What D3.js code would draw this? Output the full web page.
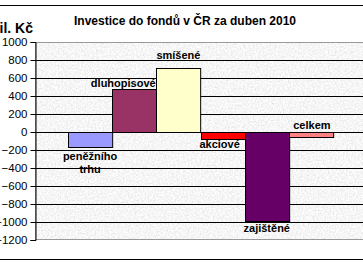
<!DOCTYPE html>
<html><head><meta charset="utf-8">
<script src="https://cdn.jsdelivr.net/npm/d3@7"></script>
<style>body{margin:0;background:#fff}svg{display:block}text{font-family:Arial,"Liberation Sans",sans-serif}</style>
</head><body><svg id="c" width="363" height="264"></svg>
<script>
const categories = ["peněžního trhu","dluhopisové","smíšené","akciové","zajištěné","celkem"];
const values = [-170, 480, 710, -75, -990, -55];
const colors = ["#9999FF","#993366","#FFFFCC","#FF0000","#660066","#FF8080"];
const yTicks = [1000,800,600,400,200,0,-200,-400,-600,-800,-1000,-1200];
const title = "Investice do fondů v ČR za duben 2010";
const unit = "mil. Kč";

const svg = d3.select("#c");
const defs = svg.append("defs");
const f = defs.append("filter").attr("id","granite").attr("x",0).attr("y",0).attr("width","100%").attr("height","100%");
f.append("feTurbulence").attr("type","fractalNoise").attr("baseFrequency","0.6").attr("numOctaves",3).attr("seed",4).attr("result","n");
f.append("feColorMatrix").attr("in","n").attr("type","matrix")
 .attr("values","0.4 0 0 0 0.72  0.4 0 0 0 0.72  0.4 0 0 0 0.72  0 0 0 0 1");

const plot = {l:35, r:366, t:42, b:240};
const y = d3.scaleLinear().domain([-1200,1000]).range([plot.b, plot.t]);
const x = d3.scaleBand().domain(categories).range([68, 333]).padding(0);

// chart border lines
svg.append("line").attr("x1",0).attr("x2",363).attr("y1",5.5).attr("y2",5.5).attr("stroke","#000");
svg.append("line").attr("x1",0).attr("x2",363).attr("y1",259.5).attr("y2",259.5).attr("stroke","#000");

// plot background
svg.append("rect").attr("x",plot.l).attr("y",plot.t).attr("width",plot.r-plot.l).attr("height",plot.b-plot.t)
  .attr("filter","url(#granite)");
svg.append("rect").attr("x",plot.l+0.5).attr("y",plot.t+0.5).attr("width",plot.r-plot.l).attr("height",plot.b-plot.t-1)
  .attr("fill","none").attr("stroke","#999");

// gridlines
svg.append("g").selectAll("line").data(yTicks.filter(d=>d!==1000 && d!==-1200)).join("line")
  .attr("x1",plot.l).attr("x2",plot.r).attr("y1",d=>Math.round(y(d))+0.5).attr("y2",d=>Math.round(y(d))+0.5)
  .attr("stroke","#000");

// bars
svg.append("g").selectAll("rect").data(categories).join("rect")
  .attr("x",d=>Math.round(x(d))+0.5)
  .attr("width",x.bandwidth())
  .attr("y",(d,i)=>Math.round(y(Math.max(0,values[i])))+0.5)
  .attr("height",(d,i)=>Math.abs(Math.round(y(values[i]))-Math.round(y(0))))
  .attr("fill",(d,i)=>colors[i]).attr("stroke","#000");

// axis
const ax = d3.axisLeft(y).tickValues(yTicks).tickSize(5).tickPadding(3).tickFormat(d3.format("d"));
const g = svg.append("g").attr("transform",`translate(${plot.l+0.5},0)`).call(ax);
g.select(".domain").attr("stroke","#000");
g.selectAll(".tick line").attr("stroke","#000");
g.selectAll(".tick text").attr("font-size",11.5).attr("fill","#000").attr("font-family","Arial, Liberation Sans");

// title and unit
svg.append("text").attr("x",185).attr("y",25).attr("text-anchor","middle").attr("font-size",12).attr("font-weight","bold").text(title);
svg.append("text").attr("x",33).attr("y",33).attr("text-anchor","end").attr("font-size",14).attr("font-weight","bold").text(unit);

// data labels
const labelDx = [0,-11,0,-3,0,1];
const labelDy = [13,-2,-9,9,11,-8];
const lg = svg.append("g").attr("font-size",11).attr("font-weight","bold").attr("text-anchor","middle");
categories.forEach((c,i)=>{
  const cx = x(c)+x.bandwidth()/2+labelDx[i];
  const by = y(values[i])+labelDy[i];
  const words = c.split(" ");
  const t = lg.append("text").attr("x",cx).attr("y",by);
  words.forEach((w,j)=>t.append("tspan").attr("x",cx).attr("dy",j?13:0).text(w));
});
</script></body></html>
